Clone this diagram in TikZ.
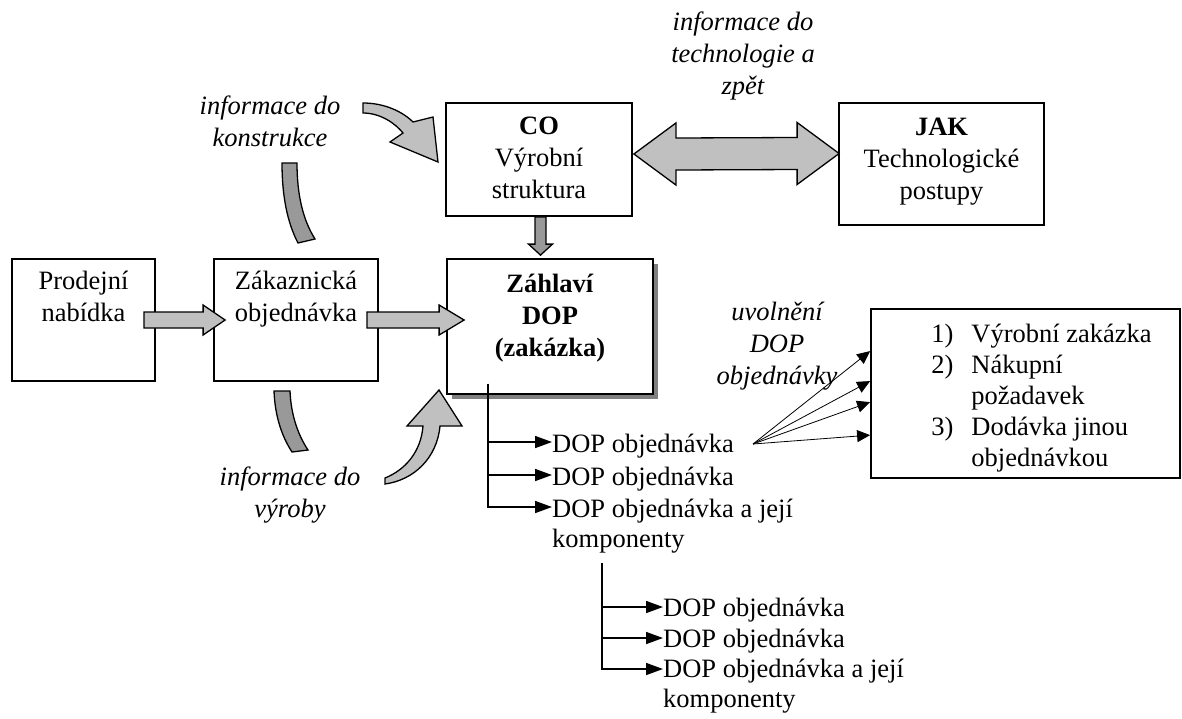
\documentclass[tikz,border=0pt]{standalone}
\usepackage{fontspec}
\setmainfont{Liberation Serif}
\usepackage{tikz}
\usetikzlibrary{arrows.meta,positioning,calc,shadows}
\usepackage{xcolor}
\definecolor{flight}{HTML}{C0C0C0}
\definecolor{fdark}{HTML}{999999}
\definecolor{fshadow}{HTML}{808080}

\begin{document}
\begin{tikzpicture}[x=1pt,y=-1pt,font=\fontsize{26.5pt}{32pt}\selectfont,
  box/.style={draw,line width=1.8pt,inner sep=0pt},
  boxtext/.style={anchor=base,align=center,inner sep=0pt},
  note/.style={anchor=base,align=center,inner sep=0pt,font=\fontsize{26.5pt}{32pt}\selectfont\itshape},
  lightarrow/.style={draw,line width=1.3pt,fill=flight,line join=miter},
  darkarrow/.style={draw,line width=1.3pt,fill=fdark,line join=miter},
  branch/.style={line width=1.6pt,-{Triangle[length=17pt,width=12pt]}},
  release/.style={line width=0.8pt,-{Triangle[length=13pt,width=12pt]}},
  dop/.style={anchor=base west,align=left,inner sep=0pt,font=\fontsize{26.5pt}{30pt}\selectfont}]
\useasboundingbox (0,0) rectangle (1182,718);
% boxes (label base = last line)
\node[box,minimum width=143pt,minimum height=122pt,
  label={[boxtext,yshift=-63pt]north:Prodejní\\nabídka}] (prod) at (83.5,320) {};
\node[box,minimum width=164pt,minimum height=122pt,
  label={[boxtext,yshift=-63pt]north:Zákaznická\\objednávka}] (zak) at (296,320) {};
\node[box,minimum width=206pt,minimum height=135pt,fill=white,
  drop shadow={shadow xshift=5pt,shadow yshift=-5pt,fill=fshadow,opacity=1},
  label={[boxtext,yshift=-98pt]north:\textbf{Záhlaví}\\\textbf{DOP}\\\textbf{(zakázka)}}] (zahl) at (550,326.5) {};
\node[box,minimum width=186pt,minimum height=113pt,
  label={[boxtext,yshift=-96pt]north:\textbf{CO}\\Výrobní\\struktura}] (co) at (539,159.5) {};
\node[box,minimum width=205pt,minimum height=122pt,
  label={[boxtext,yshift=-97pt]north:\textbf{JAK}\\Technologické\\postupy}] (jak) at (941.5,164) {};
\node[box,minimum width=309pt,minimum height=169pt,
  label={[anchor=base west,inner sep=0pt,xshift=61pt,yshift=-34pt,font=\fontsize{26.5pt}{31pt}\selectfont]north west:%
  \begin{tabular}[t]{@{}l@{\hspace{18pt}}l@{}}1) & Výrobní zakázka\\ 2) & Nákupní\\ & požadavek\\ 3) & Dodávka jinou\\ & objednávkou\end{tabular}}] (rbox) at (1025.5,393.5) {};

% notes (anchored at last baseline)
\node[note] (nkon) at (270,146) {informace do\\konstrukce};
\node[note] (ntech) at (743,94) {informace do\\technologie a\\zpět};
\node[note] (nvyr) at (290,517) {informace do\\výroby};
\node[note] (nuvol) at (777,384) {uvolnění\\DOP\\objednávky};

% block arrows
\coordinate (a1s) at ($(prod.east)+(-12,0)$);
\coordinate (a1e) at ($(zak.west)+(12,0)$);
\draw[lightarrow] ($(a1s)+(0,-8)$) -- ($(a1e)+(-22,-8)$) -- ($(a1e)+(-22,-15)$) -- (a1e)
  -- ($(a1e)+(-22,15)$) -- ($(a1e)+(-22,8)$) -- ($(a1s)+(0,8)$) -- cycle;
\coordinate (a2s) at ($(zak.east)+(-12,0)$);
\coordinate (a2e) at ($(zahl.west)+(18,-6.5)$);
\draw[lightarrow] ($(a2s)+(0,-8)$) -- ($(a2e)+(-25,-8)$) -- ($(a2e)+(-25,-15)$) -- (a2e)
  -- ($(a2e)+(-25,15)$) -- ($(a2e)+(-25,8)$) -- ($(a2s)+(0,8)$) -- cycle;
\coordinate (d1s) at ($(co.south)+(1.5,0)$);
\coordinate (d1e) at ($(zahl.north)+(-9.5,-3)$);
\draw[darkarrow] ($(d1s)+(-5.5,0)$) -- ($(d1e)+(-5.5,-11)$) -- ($(d1e)+(-12,-11)$) -- (d1e)
  -- ($(d1e)+(12,-11)$) -- ($(d1e)+(5.5,-11)$) -- ($(d1s)+(5.5,0)$) -- cycle;
\coordinate (hl) at ($(co.east)+(1,-5.5)$);
\coordinate (hr) at ($(jak.west)+(1,-10.5)$);
\draw[lightarrow] (hl) -- ($(hl)+(42,-31)$) -- ($(hl)+(42,-16)$) -- ($(hr)+(-42,-16)$) -- ($(hr)+(-42,-31)$)
  -- (hr) -- ($(hr)+(-42,31)$) -- ($(hr)+(-42,16)$) -- ($(hl)+(42,16)$) -- ($(hl)+(42,31)$) -- cycle;

% curved arrows
\draw[lightarrow] (363,103) .. controls (385,103) and (403,112) .. (413,122) -- (433,117) -- (438,162)
  -- (390,142) -- (403,133) .. controls (395,123) and (380,113) .. (363,113) -- cycle;
\draw[lightarrow] (385,478) .. controls (405,470) and (421,452) .. (423,426) -- (407,426) -- (439,390)
  -- (462,426) -- (440,426) .. controls (437,458) and (414,480) .. (385,484) -- cycle;
\draw[darkarrow] (282,163) -- (297,163) .. controls (297,195) and (303,220) .. (315,239)
  -- (298,243) .. controls (287,222) and (282,195) .. (282,163) -- cycle;
\draw[darkarrow] (274,391) -- (290,391) .. controls (291,415) and (298,435) .. (308,450)
  -- (292,452) .. controls (281,435) and (275,415) .. (274,391) -- cycle;

% DOP tree
\coordinate (t1) at ($(zahl.south west)+(42,-11)$);
\node[dop] (o1) at (552,452) {DOP objednávka};
\node[dop] (o2) at (552,485) {DOP objednávka};
\node[dop] (o3) at (552,547) {DOP objednávka a její\\komponenty};
\draw[branch] (t1) |- ([yshift=10pt]o1.base west);
\draw[branch] (t1) |- ([yshift=10pt]o2.base west);
\draw[branch] (t1) |- ([yshift=40pt]o3.base west);
\coordinate (t2) at ($(o3.base west)+(50,16)$);
\node[dop] (o4) at (663,616) {DOP objednávka};
\node[dop] (o5) at (663,647) {DOP objednávka};
\node[dop] (o6) at (663,707) {DOP objednávka a její\\komponenty};
\draw[branch] (t2) |- ([yshift=9pt]o4.base west);
\draw[branch] (t2) |- ([yshift=9pt]o5.base west);
\draw[branch] (t2) |- ([yshift=38pt]o6.base west);

% release arrows
\coordinate (fan) at (753,444);
\draw[release] (fan) -- ($(rbox.north west)+(0,43)$);
\draw[release] (fan) -- ($(rbox.north west)+(0,73)$);
\draw[release] (fan) -- ($(rbox.north west)+(0,94)$);
\draw[release] (fan) -- ($(rbox.north west)+(0,127)$);
\end{tikzpicture}
\end{document}
